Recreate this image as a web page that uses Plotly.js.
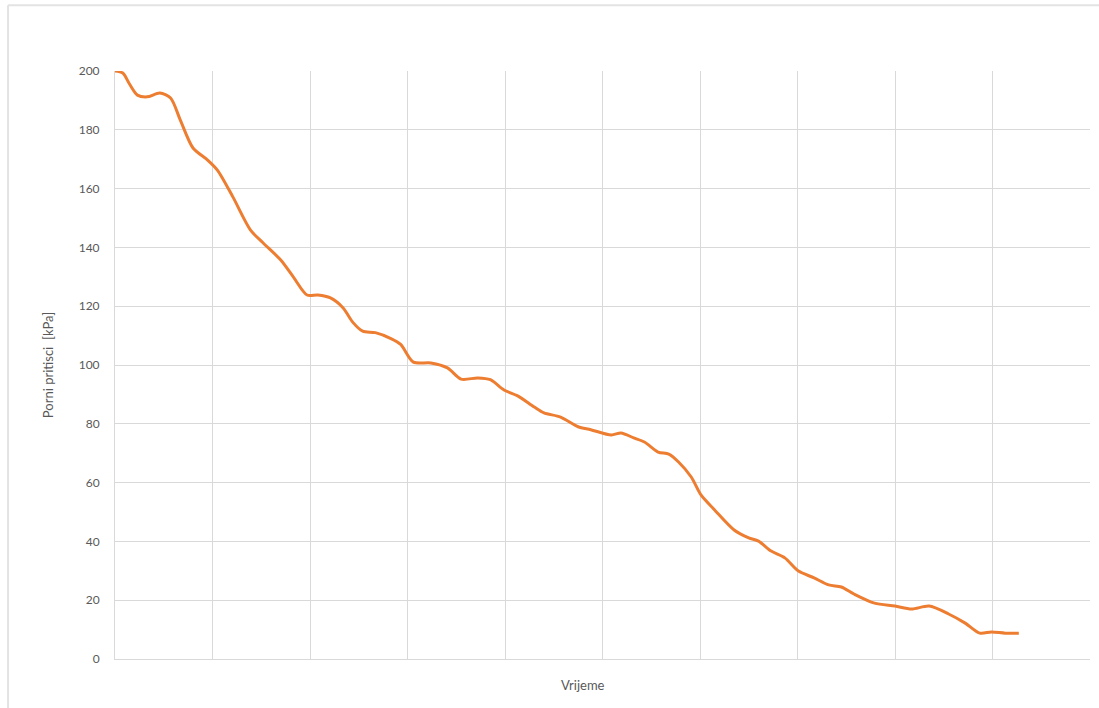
<!DOCTYPE html>
<html>
<head>
<meta charset="utf-8">
<script src="https://cdn.plot.ly/plotly-3.0.1.min.js"></script>
<style>html,body{margin:0;padding:0;background:#fff;}#chart{width:1099px;height:708px;}</style>
</head>
<body>
<div id="chart"></div>
<script>
const vrijeme = [0,0.08,0.15,0.23,0.33,0.46,0.57,0.67,0.80,0.95,1.05,1.21,1.39,1.52,1.70,1.83,1.97,2.08,2.21,2.34,2.44,2.54,2.67,2.83,2.93,3.06,3.24,3.41,3.55,3.72,3.85,3.99,4.13,4.30,4.40,4.57,4.75,4.88,5.09,5.19,5.32,5.43,5.57,5.68,5.78,5.91,6.01,6.15,6.35,6.50,6.60,6.73,6.87,7.01,7.17,7.32,7.45,7.58,7.79,8.00,8.17,8.35,8.55,8.72,8.87,8.99,9.13,9.27];
const porniPritisci = [200,199.3,195.5,191.8,191.2,192.5,190.8,183.3,173.8,169.7,166.3,157.1,145.9,141.5,135.7,129.9,123.8,123.8,122.8,119.4,114.5,111.5,111,109,107,101,100.7,99,95.2,95.6,95,91.5,89.5,85.7,83.7,82.3,79,78,76.2,76.9,75.2,73.8,70.4,69.7,67,61.9,55.8,50.7,43.9,41.2,40.1,36.7,34.4,29.9,27.6,25.2,24.5,22.1,19.0,18.0,17.0,18.0,15.3,12.2,8.8,9.2,8.8,8.8];
const yTicks = [0,20,40,60,80,100,120,140,160,180,200];
const xGrid = [0,1,2,3,4,5,6,7,8,9,10];
const xTitle = 'Vrijeme';
const yTitle = 'Porni pritisci  [kPa]';

const trace = {
  x: vrijeme, y: porniPritisci, type: 'scatter', mode: 'lines',
  line: {color: '#ED7D31', width: 3, shape: 'spline', smoothing: 0.8},
  hoverinfo: 'skip'
};
const gray = '#595959';
const layout = {
  width: 1099, height: 708,
  margin: {l: 115, r: 9, t: 71, b: 49},
  paper_bgcolor: '#ffffff', plot_bgcolor: '#ffffff',
  showlegend: false,
  font: {family: 'Lato, "Open Sans", sans-serif', color: gray, size: 12},
  xaxis: {
    range: [0, 10], tickvals: xGrid, showticklabels: false,
    showgrid: true, gridcolor: '#d9d9d9', gridwidth: 1,
    zeroline: false, showline: true, linecolor: '#d9d9d9', linewidth: 1,
    ticks: '', fixedrange: true
  },
  yaxis: {
    range: [0, 200], tickvals: yTicks, ticktext: yTicks.map(String),
    showgrid: true, gridcolor: '#d9d9d9', gridwidth: 1,
    zeroline: false, showline: true, linecolor: '#d9d9d9', linewidth: 1,
    ticks: '', ticklabelstandoff: 12,
    tickfont: {size: 12, color: gray}, fixedrange: true,
    title: {text: yTitle, font: {size: 13, color: gray}, standoff: 22}
  },
  annotations: [
    {text: xTitle, xref: 'paper', yref: 'paper', x: 0.48, y: -0.044, xanchor: 'center', yanchor: 'middle',
     showarrow: false, font: {size: 13, color: gray}}
  ],
  shapes: [
    {type: 'line', xref: 'paper', yref: 'paper', x0: -0.1097, x1: -0.1097, y0: -0.2, y1: 1.112, line: {color: '#e3e3e3', width: 2}},
    {type: 'line', xref: 'paper', yref: 'paper', x0: -0.1097, x1: 1.1, y0: 1.112, y1: 1.112, line: {color: '#e3e3e3', width: 2}}
  ]
};
Plotly.newPlot('chart', [trace], layout, {displayModeBar: false, staticPlot: true});
</script>
</body>
</html>
